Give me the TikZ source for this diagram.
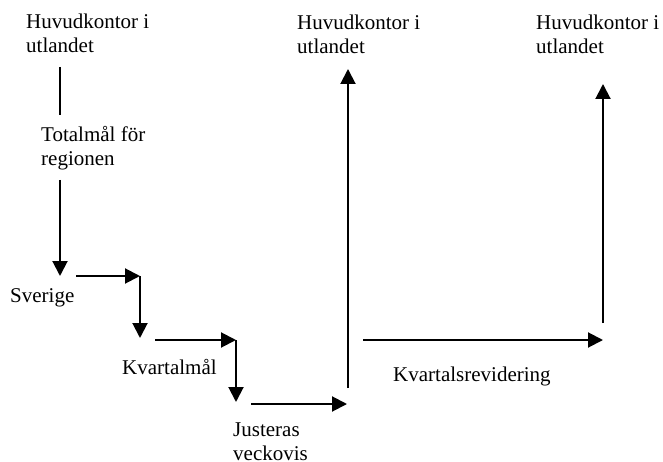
\documentclass[tikz,border=0pt]{standalone}
\usepackage{fontspec}
\setmainfont{Liberation Serif}
\usetikzlibrary{arrows.meta}
\begin{document}
\begin{tikzpicture}[x=1pt,y=-1pt,
  lbl/.style={anchor=base west,inner sep=0pt,align=left,font=\fontsize{21}{24}\selectfont},
  flow/.style={line width=2pt},
  flowarrow/.style={flow,-{Triangle[length=15pt,width=15pt]}}]
\useasboundingbox (0,0) rectangle (663,462);
% labels (two-line labels are placed by the baseline of their last line)
\node[lbl] (hq1) at (26,53) {Huvudkontor i\\utlandet};
\node[lbl] (total) at (41,166) {Totalmål för\\regionen};
\node[lbl] (se) at (10,302) {Sverige};
\node[lbl] (kv) at (122,374) {Kvartalmål};
\node[lbl] (just) at (233,460) {Justeras\\veckovis};
\node[lbl] (hq2) at (297,54) {Huvudkontor i\\utlandet};
\node[lbl] (hq3) at (536,54) {Huvudkontor i\\utlandet};
\node[lbl] (rev) at (393,381) {Kvartalsrevidering};
% path points
\coordinate (a1) at (60,67);
\coordinate (a2) at (60,115);
\coordinate (b1) at (60,180);
\coordinate (b2) at (60,276);
\coordinate (c1) at (76,276);
\coordinate (c2) at (140,276);
\coordinate (c3) at (140,338);
\coordinate (d1) at (155,340);
\coordinate (d2) at (236,340);
\coordinate (d3) at (236,402);
\coordinate (e1) at (251,404);
\coordinate (e2) at (347,404);
\coordinate (f1) at (348,388);
\coordinate (f2) at (348,69);
\coordinate (g1) at (363,340);
\coordinate (g2) at (603,340);
\coordinate (h1) at (603,323);
\coordinate (h2) at (603,84);
% connectors
\draw[flow] (a1) -- (a2);
\draw[flowarrow] (b1) -- (b2);
\draw[flowarrow] (c1) -- (c2);
\draw[flowarrow] (c2) -- (c3);
\draw[flowarrow] (d1) -- (d2);
\draw[flowarrow] (d2) -- (d3);
\draw[flowarrow] (e1) -- (e2);
\draw[flowarrow] (f1) -- (f2);
\draw[flowarrow] (g1) -- (g2);
\draw[flowarrow] (h1) -- (h2);
\end{tikzpicture}
\end{document}
